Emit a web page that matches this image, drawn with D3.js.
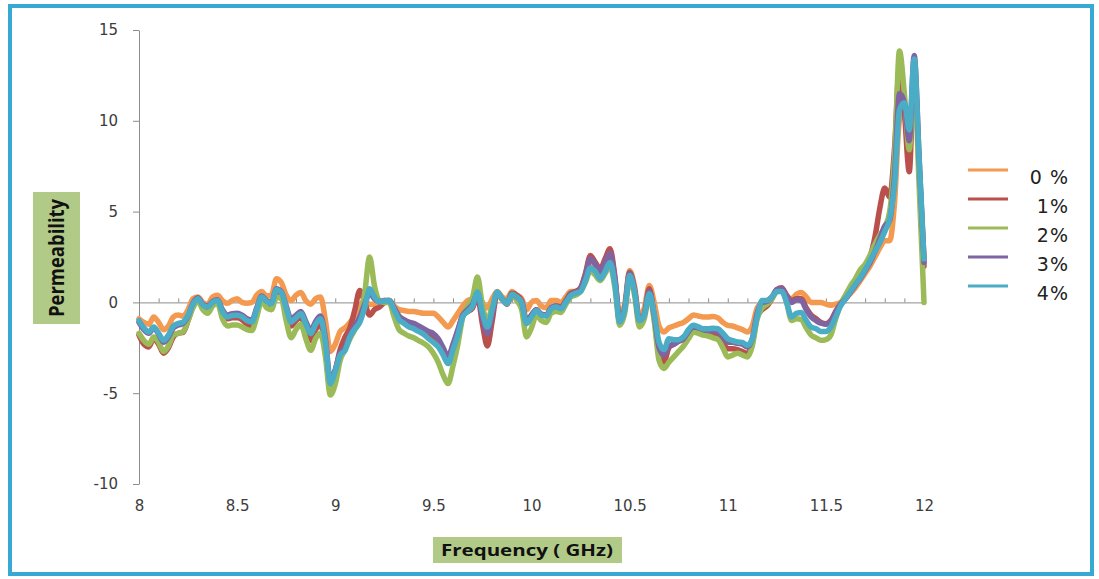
<!DOCTYPE html>
<html>
<head>
<meta charset="utf-8">
<script src="https://cdn.jsdelivr.net/npm/d3@7"></script>
<style>
body { margin: 0; background: #fff; }
svg { display: block; }
</style>
</head>
<body>
<svg width="1099" height="579"></svg>
<script>
var freq = [
  8.000, 8.025, 8.050, 8.075, 8.100, 8.125, 8.150, 8.175, 8.200, 8.225, 8.250, 8.275, 8.300, 8.325, 8.350, 8.375, 8.400, 8.425, 8.450, 8.475,
  8.500, 8.525, 8.550, 8.575, 8.600, 8.625, 8.650, 8.675, 8.700, 8.725, 8.750, 8.775, 8.800, 8.825, 8.850, 8.875, 8.900, 8.925, 8.950, 8.975,
  9.000, 9.025, 9.050, 9.075, 9.100, 9.125, 9.150, 9.175, 9.200, 9.225, 9.250, 9.275, 9.300, 9.325, 9.350, 9.375, 9.400, 9.425, 9.450, 9.475,
  9.500, 9.525, 9.550, 9.575, 9.600, 9.625, 9.650, 9.675, 9.700, 9.725, 9.750, 9.775, 9.800, 9.825, 9.850, 9.875, 9.900, 9.925, 9.950, 9.975,
  10.000, 10.025, 10.050, 10.075, 10.100, 10.125, 10.150, 10.175, 10.200, 10.225, 10.250, 10.275, 10.300, 10.325, 10.350, 10.375, 10.400, 10.425, 10.450, 10.475,
  10.500, 10.525, 10.550, 10.575, 10.600, 10.625, 10.650, 10.675, 10.700, 10.725, 10.750, 10.775, 10.800, 10.825, 10.850, 10.875, 10.900, 10.925, 10.950, 10.975,
  11.000, 11.025, 11.050, 11.075, 11.100, 11.125, 11.150, 11.175, 11.200, 11.225, 11.250, 11.275, 11.300, 11.325, 11.350, 11.375, 11.400, 11.425, 11.450, 11.475,
  11.500, 11.525, 11.550, 11.575, 11.600, 11.625, 11.650, 11.675, 11.700, 11.725, 11.750, 11.775, 11.800, 11.825, 11.850, 11.875, 11.900, 11.925, 11.950, 11.975,
  12.000
]

var mu0 = [
  -0.90, -1.10, -1.20, -0.80, -1.10, -1.50, -1.30, -0.80, -0.70, -0.75, -0.40, 0.20, 0.30, 0.00, -0.10, 0.30, 0.40, 0.10, -0.05, 0.10,
  0.20, 0.00, -0.05, 0.00, 0.40, 0.60, 0.35, 0.40, 1.30, 1.10, 0.40, 0.10, 0.40, 0.55, 0.10, -0.10, 0.20, 0.30, -1.00, -2.70,
  -2.30, -1.60, -1.40, -1.10, -0.70, -0.20, 0.10, -0.10, -0.10, 0.00, 0.10, 0.10, -0.20, -0.40, -0.45, -0.50, -0.50, -0.55, -0.60, -0.60,
  -0.60, -0.80, -1.10, -1.36, -1.00, -0.60, -0.20, 0.10, 0.20, 0.50, 0.00, -0.30, 0.20, 0.60, 0.30, 0.20, 0.60, 0.40, 0.20, -0.40,
  0.00, 0.10, -0.20, -0.30, 0.10, 0.10, 0.00, 0.30, 0.60, 0.60, 0.70, 1.30, 2.10, 1.80, 1.40, 1.80, 2.30, 1.20, -0.70, -0.10,
  1.76, 0.90, -0.80, -0.30, 0.93, 0.00, -1.30, -1.63, -1.40, -1.30, -1.20, -1.10, -0.90, -0.70, -0.75, -0.80, -0.80, -0.78, -0.85, -1.10,
  -1.26, -1.30, -1.40, -1.50, -1.63, -1.30, -0.30, 0.00, 0.10, 0.30, 0.60, 0.65, 0.30, 0.20, 0.45, 0.55, 0.30, 0.00, 0.00, 0.00,
  -0.10, -0.16, -0.10, 0.00, 0.20, 0.50, 0.80, 1.20, 1.60, 2.00, 2.50, 3.00, 3.40, 3.40, 5.50, 10.00, 10.50, 8.60, 12.80, 7.50,
  2.50
]

var mu1 = [
  -1.80, -2.30, -2.45, -2.00, -2.30, -2.80, -2.50, -1.90, -1.70, -1.65, -1.00, -0.20, 0.20, -0.20, -0.40, 0.00, 0.10, -0.60, -0.90, -0.85,
  -0.85, -0.95, -1.20, -1.30, -0.60, 0.20, -0.10, -0.20, 0.60, 0.45, -0.50, -1.30, -1.00, -0.80, -1.50, -2.10, -1.50, -1.20, -2.60, -4.80,
  -3.80, -2.60, -1.90, -1.40, -0.40, 0.66, 0.00, -0.70, -0.40, -0.26, 0.00, 0.10, -0.40, -0.90, -1.05, -1.20, -1.30, -1.45, -1.60, -1.80,
  -2.00, -2.30, -2.80, -3.10, -2.40, -1.60, -0.70, -0.50, -0.30, 0.30, -1.20, -2.40, -1.00, 0.50, 0.20, -0.10, 0.50, 0.40, 0.10, -1.00,
  -0.70, -0.40, -0.70, -0.70, -0.30, -0.20, -0.25, 0.10, 0.50, 0.60, 0.80, 1.60, 2.58, 2.20, 1.85, 2.40, 2.95, 1.40, -1.17, -0.40,
  1.66, 0.70, -1.10, -0.70, 0.75, -0.80, -2.80, -3.28, -2.50, -2.30, -2.10, -1.90, -1.70, -1.55, -1.60, -1.70, -1.75, -1.75, -1.85, -2.20,
  -2.55, -2.55, -2.60, -2.70, -2.82, -2.20, -0.80, -0.40, -0.20, 0.20, 0.70, 0.80, 0.40, 0.10, 0.20, 0.20, -0.30, -0.70, -0.90, -1.10,
  -1.17, -1.00, -0.50, -0.10, 0.20, 0.60, 1.00, 1.40, 1.90, 2.50, 3.60, 5.20, 6.30, 5.80, 8.50, 13.00, 10.50, 7.20, 13.00, 7.50,
  2.00
]

var mu2 = [
  -1.70, -2.10, -2.30, -1.90, -2.20, -2.70, -2.40, -1.80, -1.70, -1.60, -1.00, -0.30, 0.10, -0.40, -0.60, -0.20, -0.05, -0.90, -1.30, -1.25,
  -1.25, -1.35, -1.50, -1.55, -0.80, 0.10, -0.30, -0.40, 0.30, 0.20, -1.00, -1.95, -1.50, -1.20, -2.00, -2.64, -2.00, -1.70, -3.00, -5.10,
  -4.50, -3.20, -2.60, -2.00, -1.50, -1.00, 0.50, 2.50, 0.90, 0.10, 0.00, 0.00, -0.80, -1.50, -1.70, -1.85, -1.95, -2.10, -2.25, -2.45,
  -2.80, -3.30, -4.00, -4.47, -3.50, -2.30, -0.80, -0.20, 0.30, 1.40, -0.20, -1.00, -0.20, 0.45, 0.15, -0.05, 0.40, 0.10, -0.40, -1.90,
  -1.40, -0.70, -1.00, -1.10, -0.60, -0.50, -0.55, -0.10, 0.30, 0.40, 0.60, 1.10, 1.75, 1.50, 1.20, 1.60, 2.00, 0.80, -1.26, -0.60,
  1.30, 0.40, -1.35, -0.90, 0.40, -1.00, -3.20, -3.64, -3.30, -3.00, -2.70, -2.40, -2.00, -1.63, -1.70, -1.80, -1.85, -1.95, -2.05, -2.50,
  -3.00, -2.90, -2.80, -2.90, -3.00, -2.40, -0.90, -0.30, -0.10, 0.20, 0.60, 0.70, 0.00, -1.00, -0.90, -0.95, -1.40, -1.80, -1.95, -2.09,
  -2.05, -1.80, -0.90, -0.10, 0.40, 0.90, 1.30, 1.80, 2.10, 2.60, 3.20, 3.70, 4.14, 5.00, 8.00, 13.85, 11.50, 8.40, 12.50, 6.50,
  0.00
]

var mu3 = [
  -1.10, -1.50, -1.70, -1.40, -1.75, -2.20, -1.90, -1.40, -1.25, -1.15, -0.75, -0.05, 0.25, -0.10, -0.20, 0.05, 0.15, -0.40, -0.70, -0.62,
  -0.60, -0.70, -0.90, -0.98, -0.30, 0.35, 0.10, 0.00, 0.75, 0.60, -0.20, -0.90, -0.70, -0.50, -1.05, -1.55, -1.05, -0.75, -2.00, -4.30,
  -3.70, -2.80, -2.50, -1.80, -1.30, -0.80, -0.10, 0.50, 0.20, 0.05, 0.10, 0.10, -0.30, -0.75, -0.95, -1.08, -1.15, -1.30, -1.45, -1.60,
  -1.72, -2.00, -2.50, -3.00, -2.30, -1.50, -0.70, -0.40, -0.10, 0.50, -0.80, -1.72, -0.60, 0.55, 0.20, -0.05, 0.45, 0.30, 0.00, -1.10,
  -0.70, -0.40, -0.65, -0.70, -0.30, -0.20, -0.30, 0.05, 0.45, 0.55, 0.75, 1.50, 2.40, 2.10, 1.70, 2.20, 2.70, 1.30, -1.00, -0.30,
  1.60, 0.70, -1.00, -0.65, 0.60, -0.70, -2.50, -2.90, -2.40, -2.30, -2.15, -2.00, -1.60, -1.35, -1.40, -1.50, -1.55, -1.55, -1.60, -1.90,
  -2.18, -2.20, -2.25, -2.30, -2.45, -2.00, -0.60, 0.00, 0.05, 0.30, 0.70, 0.75, 0.35, 0.00, 0.15, 0.10, -0.40, -0.80, -1.00, -1.15,
  -1.20, -1.05, -0.55, -0.10, 0.20, 0.55, 0.95, 1.30, 1.75, 2.20, 2.80, 3.50, 4.20, 4.50, 7.00, 11.50, 11.00, 8.90, 13.60, 8.00,
  2.20
]

var mu4 = [
  -1.00, -1.40, -1.63, -1.36, -1.70, -2.09, -1.80, -1.30, -1.16, -1.08, -0.70, -0.10, 0.20, -0.15, -0.26, 0.00, 0.10, -0.50, -0.80, -0.72,
  -0.71, -0.80, -1.00, -1.08, -0.40, 0.30, 0.05, -0.07, 0.70, 0.55, -0.30, -1.08, -0.85, -0.62, -1.20, -1.72, -1.20, -0.90, -2.20, -4.47,
  -3.80, -2.90, -2.64, -1.90, -1.45, -1.10, -0.30, 0.75, 0.30, 0.02, 0.08, 0.10, -0.40, -0.95, -1.15, -1.35, -1.45, -1.60, -1.75, -2.00,
  -2.20, -2.45, -2.90, -3.37, -2.60, -1.80, -0.80, -0.50, -0.20, 0.57, -0.60, -1.36, -0.40, 0.57, 0.20, -0.07, 0.45, 0.30, 0.00, -1.17,
  -0.80, -0.45, -0.70, -0.75, -0.35, -0.26, -0.35, 0.00, 0.38, 0.50, 0.60, 1.20, 1.90, 1.70, 1.30, 1.70, 2.20, 1.00, -1.08, -0.40,
  1.48, 0.60, -1.00, -0.70, 0.47, -0.60, -2.20, -2.60, -2.00, -2.05, -2.05, -1.90, -1.50, -1.26, -1.35, -1.45, -1.45, -1.42, -1.45, -1.70,
  -2.00, -2.10, -2.18, -2.20, -2.36, -2.00, -0.80, 0.10, 0.10, 0.30, 0.60, 0.60, 0.00, -0.80, -0.60, -0.55, -1.00, -1.36, -1.45, -1.60,
  -1.60, -1.36, -0.80, -0.20, 0.20, 0.60, 1.00, 1.35, 1.80, 2.30, 2.80, 3.30, 3.90, 4.60, 6.50, 10.60, 11.00, 9.50, 13.40, 8.00,
  2.40
]

var seriesNames = ['0 %', '1%', '2%', '3%', '4%']
var seriesValues = [mu0, mu1, mu2, mu3, mu4]
var colors = ['#f39a50', '#b9504c', '#9bbb59', '#8064a2', '#4bacc6']
var xTicks = [8, 8.5, 9, 9.5, 10, 10.5, 11, 11.5, 12]
var yTicks = [-10, -5, 0, 5, 10, 15]

var svg = d3.select('svg')

// blue frame round the picture
svg.append('rect')
    .attr('x', 10).attr('y', 6)
    .attr('width', 1082).attr('height', 568)
    .attr('fill', '#fff')
    .attr('stroke', '#38a9d2')
    .attr('stroke-width', 4)

var x = d3.scaleLinear().domain([8, 12]).range([139, 924])
var y = d3.scaleLinear().domain([-10, 15]).range([484, 30])

var tickFont = 'DejaVu Sans, Verdana, sans-serif'
var plain = function(d) { return String(d) } // keep a plain hyphen for negatives

// vertical axis
var yAxis = svg.append('g')
    .attr('transform', 'translate(139,0)')
    .call(d3.axisLeft(y).tickValues(yTicks).tickSize(6).tickSizeOuter(0).tickPadding(15).tickFormat(plain))
yAxis.selectAll('path, line').attr('stroke', '#8c8c8c')
yAxis.selectAll('text')
    .attr('font-family', tickFont).attr('font-size', 15).attr('fill', '#3c3c3c')

// horizontal axis line sits on zero, small ticks pointing up
var minor = d3.range(0, 41).map(function(i) { return 8 + i / 10 })
var xLine = svg.append('g')
    .attr('transform', 'translate(0,' + y(0) + ')')
    .call(d3.axisTop(x).tickValues(minor).tickSize(4).tickSizeOuter(0).tickFormat(''))
xLine.selectAll('path, line').attr('stroke', '#8c8c8c')

// labels of the horizontal axis sit at the bottom
var xLab = svg.append('g')
    .attr('transform', 'translate(0,496)')
    .call(d3.axisBottom(x).tickValues(xTicks).tickSize(0).tickPadding(4).tickFormat(plain))
xLab.select('.domain').remove()
xLab.selectAll('text')
    .attr('font-family', tickFont).attr('font-size', 15).attr('fill', '#3c3c3c')

// curves
var line = d3.line()
    .x(function(d, i) { return x(freq[i]) })
    .y(function(d) { return y(d) })
    .curve(d3.curveMonotoneX)

svg.append('g').selectAll('path')
    .data(seriesValues)
    .enter()
    .append('path')
    .attr('d', line)
    .attr('fill', 'none')
    .attr('stroke', function(d, i) { return colors[i] })
    .attr('stroke-width', 5.5)
    .attr('stroke-linejoin', 'round')
    .attr('stroke-linecap', 'round')

// axis titles on green boxes
svg.append('rect').attr('x', 33).attr('y', 192).attr('width', 47).attr('height', 132).attr('fill', '#b1ca88')
svg.append('text')
    .attr('transform', 'translate(64,258) rotate(-90)')
    .attr('text-anchor', 'middle')
    .attr('font-family', 'Open Sans, sans-serif')
    .attr('font-weight', 'bold')
    .attr('font-size', 21)
    .attr('fill', '#111')
    .attr('textLength', 118)
    .attr('lengthAdjust', 'spacingAndGlyphs')
    .text('Permeability')

svg.append('rect').attr('x', 433).attr('y', 537).attr('width', 189).attr('height', 26).attr('fill', '#b1ca88')
svg.append('text')
    .attr('x', 527).attr('y', 556)
    .attr('text-anchor', 'middle')
    .attr('font-family', 'Open Sans, sans-serif')
    .attr('font-weight', 'bold')
    .attr('font-size', 16)
    .attr('fill', '#111')
    .attr('textLength', 172)
    .attr('lengthAdjust', 'spacingAndGlyphs')
    .text('Frequency ( GHz)')

// legend
var legend = svg.append('g').selectAll('g')
    .data(seriesNames)
    .enter()
    .append('g')
    .attr('transform', function(d, i) { return 'translate(0,' + (170 + i * 29) + ')' })

legend.append('line')
    .attr('x1', 968).attr('x2', 1008)
    .attr('stroke', function(d, i) { return colors[i] })
    .attr('stroke-width', 3)

legend.append('text')
    .attr('x', 1069).attr('y', 8)
    .attr('text-anchor', 'end')
    .attr('dominant-baseline', 'middle')
    .attr('font-family', tickFont)
    .attr('font-size', 19)
    .attr('letter-spacing', 1)
    .attr('fill', '#222')
    .text(function(d) { return d })
</script>
</body>
</html>
